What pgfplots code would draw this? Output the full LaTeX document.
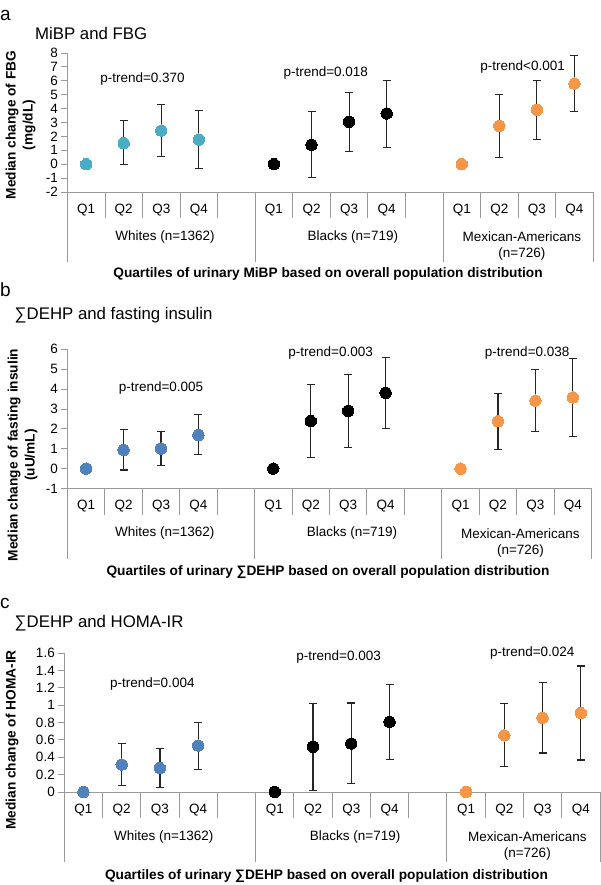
\documentclass[border=0pt]{standalone}
\usepackage{pgfplots}
\pgfplotsset{compat=1.18}
\usepackage{fontspec}
\setmainfont{Liberation Sans}

\definecolor{whA}{HTML}{4BACC6}
\definecolor{whB}{HTML}{4F81BD}
\definecolor{mex}{HTML}{F79646}
\definecolor{axgray}{HTML}{9A9A9A}
\definecolor{ebar}{HTML}{262626}

\newcommand{\txt}{\fontsize{13.5}{16}\selectfont}
\newcommand{\bld}{\fontsize{13.7}{17}\selectfont\bfseries}

\pgfplotsset{
  panel/.style={
    scale only axis, anchor=south west, clip=false,
    axis x line*=bottom, axis y line*=left,
    axis line style={draw=axgray, line width=0.9pt},
    xmin=0.5, xmax=14.5, xtick=\empty,
    ytick style={draw=axgray, line width=0.9pt},
    tick align=outside, major tick length=6pt,
    yticklabel style={font=\txt, /pgf/number format/assume math mode=true},
  },
  pt/.style={only marks, color=#1, mark=*, mark size=5.7pt, mark options={draw=#1, line width=0pt, fill=#1}},
  eb/.style={only marks, mark=none, forget plot,
    error bars/.cd, y dir=both, y explicit,
    error bar style={draw=ebar, line width=1.1pt},
    error mark options={rotate=90, draw=ebar, line width=1.1pt, mark size=4pt}},
}

% category boxes under each panel, #1 = ymin of the panel
\newcommand{\decor}[1]{%
  \pgfplotsinvokeforeach{1.5,2.5,3.5,4.5,6.5,7.5,8.5,9.5,11.5,12.5,13.5}{%
    \draw[axgray, line width=0.9pt] (axis cs:##1,#1) -- ++(0pt,-26pt);}
  \pgfplotsinvokeforeach{0.5,5.5,10.5,14.5}{%
    \draw[axgray, line width=0.9pt] (axis cs:##1,#1) -- ++(0pt,-70pt);}
  \pgfplotsinvokeforeach{1,6,11}{\node[font=\txt, yshift=-18pt] at (axis cs:##1,#1) {Q1};}
  \pgfplotsinvokeforeach{2,7,12}{\node[font=\txt, yshift=-18pt] at (axis cs:##1,#1) {Q2};}
  \pgfplotsinvokeforeach{3,8,13}{\node[font=\txt, yshift=-18pt] at (axis cs:##1,#1) {Q3};}
  \pgfplotsinvokeforeach{4,9,14}{\node[font=\txt, yshift=-18pt] at (axis cs:##1,#1) {Q4};}
  \node[font=\txt, yshift=-44.7pt] at (axis cs:3.1,#1) {Whites (n=1362)};
  \node[font=\txt, yshift=-44.7pt] at (axis cs:8.1,#1) {Blacks (n=719)};
  \node[font=\txt, yshift=-44.7pt] at (axis cs:12.6,#1) {Mexican-Americans};
  \node[font=\txt, yshift=-62pt] at (axis cs:12.6,#1) {(n=726)};
}

\begin{document}
\begin{tikzpicture}
\useasboundingbox (0pt,0pt) rectangle (600pt,-885pt);

% ---------------- panel a ----------------
\node[font=\fontsize{19}{22}\selectfont, anchor=west, inner sep=0pt] at (0pt,-15pt) {a};
\node[font=\fontsize{16.8}{19}\selectfont, anchor=west, inner sep=0pt] at (35pt,-33pt) {MiBP and FBG};
\node[rotate=90, align=center, font=\bld, inner sep=0pt] at (20.5pt,-125pt) {Median change of FBG\\(mg/dL)};
\node[font=\bld, inner sep=0pt] at (328pt,-274pt) {Quartiles of urinary MiBP based on overall population distribution};

\begin{axis}[panel, at={(67.4pt,-192pt)}, width=525.8pt, height=139pt,
  ymin=-2, ymax=8, ytick={-2,-1,0,1,2,3,4,5,6,7,8}]
\addplot[eb] coordinates {(2,1.51) += (0,1.61) -= (0,1.51) (3,2.42) += (0,1.87) -= (0,1.87) (4,1.77) += (0,2.09) -= (0,2.06)};
\addplot[pt=whA] coordinates {(1,0) (2,1.51) (3,2.42) (4,1.77)};
\addplot[eb] coordinates {(7,1.39) += (0,2.42) -= (0,2.37) (8,3.05) += (0,2.09) -= (0,2.12) (9,3.65) += (0,2.38) -= (0,2.42)};
\addplot[pt=black] coordinates {(6,0) (7,1.39) (8,3.05) (9,3.65)};
\addplot[eb] coordinates {(12,2.76) += (0,2.27) -= (0,2.26) (13,3.91) += (0,2.13) -= (0,2.14) (14,5.80) += (0,2.05) -= (0,2.04)};
\addplot[pt=mex] coordinates {(11,0) (12,2.76) (13,3.91) (14,5.80)};
\node[font=\txt] at (axis cs:2.5,6.12) {p-trend=0.370};
\node[font=\txt] at (axis cs:7.38,6.57) {p-trend=0.018};
\node[font=\txt] at (axis cs:12.62,6.97) {p-trend<0.001};
\decor{-2}
\end{axis}

% ---------------- panel b ----------------
\node[font=\fontsize{19}{22}\selectfont, anchor=west, inner sep=0pt] at (0pt,-290pt) {b};
\node[font=\fontsize{16.8}{19}\selectfont, anchor=west, inner sep=0pt] at (14.5pt,-315pt) {∑DEHP and fasting insulin};
\node[rotate=90, align=center, font=\bld, inner sep=0pt] at (22.5pt,-455pt) {Median change of fasting insulin\\(uU/mL)};
\node[font=\bld, inner sep=0pt] at (328pt,-572pt) {Quartiles of urinary ∑DEHP based on overall population distribution};

\begin{axis}[panel, at={(67.4pt,-488.5pt)}, width=524.2pt, height=139.2pt,
  ymin=-1, ymax=6, ytick={-1,0,1,2,3,4,5,6}]
\addplot[eb] coordinates {(2,0.94) += (0,1.02) -= (0,1.01) (3,1.01) += (0,0.84) -= (0,0.87) (4,1.69) += (0,1.01) -= (0,0.98)};
\addplot[pt=whB] coordinates {(1,0) (2,0.94) (3,1.01) (4,1.69)};
\addplot[eb] coordinates {(7,2.39) += (0,1.83) -= (0,1.83) (8,2.90) += (0,1.83) -= (0,1.82) (9,3.81) += (0,1.80) -= (0,1.79)};
\addplot[pt=black] coordinates {(6,0) (7,2.39) (8,2.90) (9,3.81)};
\addplot[eb] coordinates {(12,2.38) += (0,1.42) -= (0,1.40) (13,3.42) += (0,1.56) -= (0,1.56) (14,3.58) += (0,1.97) -= (0,1.98)};
\addplot[pt=mex] coordinates {(11,0) (12,2.38) (13,3.42) (14,3.58)};
\node[font=\txt] at (axis cs:3.0,4.07) {p-trend=0.005};
\node[font=\txt] at (axis cs:7.53,5.8) {p-trend=0.003};
\node[font=\txt] at (axis cs:12.78,5.82) {p-trend=0.038};
\decor{-1}
\end{axis}

% ---------------- panel c ----------------
\node[font=\fontsize{19}{22}\selectfont, anchor=west, inner sep=0pt] at (0pt,-603pt) {c};
\node[font=\fontsize{16.8}{19}\selectfont, anchor=west, inner sep=0pt] at (14.5pt,-623pt) {∑DEHP and HOMA-IR};
\node[rotate=90, font=\bld, inner sep=0pt] at (12pt,-740pt) {Median change of HOMA-IR};
\node[font=\bld, inner sep=0pt] at (326.5pt,-876pt) {Quartiles of urinary ∑DEHP based on overall population distribution};

\begin{axis}[panel, at={(64.3pt,-792pt)}, width=535.7pt, height=139pt,
  ymin=0, ymax=1.6, ytick={0,0.2,0.4,0.6,0.8,1,1.2,1.4,1.6}]
\addplot[eb] coordinates {(2,0.316) += (0,0.240) -= (0,0.241) (3,0.276) += (0,0.224) -= (0,0.220) (4,0.535) += (0,0.270) -= (0,0.272)};
\addplot[pt=whB] coordinates {(1,0) (2,0.316) (3,0.276) (4,0.535)};
\addplot[eb] coordinates {(7,0.521) += (0,0.499) -= (0,0.501) (8,0.558) += (0,0.467) -= (0,0.464) (9,0.807) += (0,0.435) -= (0,0.429)};
\addplot[pt=black] coordinates {(6,0) (7,0.521) (8,0.558) (9,0.807)};
\addplot[eb] coordinates {(12,0.652) += (0,0.363) -= (0,0.359) (13,0.855) += (0,0.404) -= (0,0.406) (14,0.908) += (0,0.542) -= (0,0.540)};
\addplot[pt=mex] coordinates {(11,0) (12,0.652) (13,0.855) (14,0.908)};
\node[font=\txt] at (axis cs:2.8,1.24) {p-trend=0.004};
\node[font=\txt] at (axis cs:7.67,1.555) {p-trend=0.003};
\node[font=\txt] at (axis cs:12.73,1.596) {p-trend=0.024};
\decor{0}
\end{axis}
\end{tikzpicture}
\end{document}
